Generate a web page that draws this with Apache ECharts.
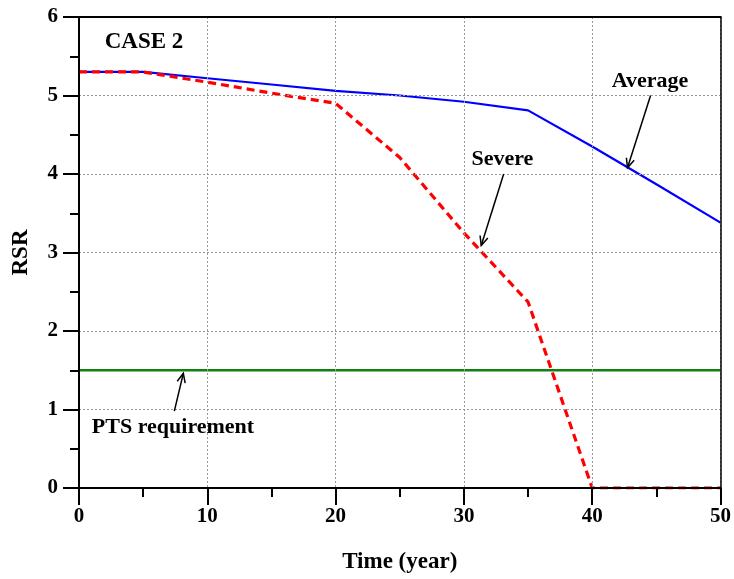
<!DOCTYPE html>
<html><head><meta charset="utf-8">
<script src="https://cdn.jsdelivr.net/npm/echarts@6/dist/echarts.min.js"></script>
<style>html,body{margin:0;padding:0;background:#fff}#c{width:734px;height:579px}</style>
</head><body><div id="c"></div>
<script>
var years = [0, 5, 10, 15, 20, 25, 30, 35, 40, 45, 50];
var average = [5.3, 5.3, 5.22, 5.14, 5.06, 5.0, 4.92, 4.81, 4.35, 3.87, 3.38];
var severe = [5.3, 5.3, 5.17, 5.03, 4.9, 4.21, 3.25, 2.37, 0, 0, 0];
var ptsYears = [0, 50];
var ptsValue = [1.5, 1.5];

// annotations: [text, textX, textY, arrowFromX, arrowFromY, arrowToX, arrowToY]
var annotations = [
  ['Average', 44.5, 5.18, 44.55, 5.0, 42.75, 4.08],
  ['Severe', 33.0, 4.19, 33.1, 4.0, 31.35, 3.09],
  ['PTS requirement', null, null, 7.43, 0.98, 8.13, 1.46]
];
var ptsLabel = ['PTS requirement', 1.0, 0.77];
var caseLabel = ['CASE 2', 2.0, 5.68];

var FONT = '"Liberation Serif", "Times New Roman", serif';
function pairs(xs, ys){ return xs.map(function(x,i){ return [x, ys[i]]; }); }

var chart = echarts.init(document.getElementById('c'), null, {renderer:'canvas'});
var tickStyle = {color: '#000', width: 2};
var option = {
  animation: false,
  backgroundColor: '#fff',
  grid: {left: 79, top: 17, width: 642, height: 474, show: false},
  xAxis: [{
    type: 'value', min: 0, max: 50, interval: 10,
    name: 'Time (year)', nameLocation: 'middle', nameGap: 63,
    nameTextStyle: {fontFamily: FONT, fontWeight: 'bold', fontSize: 23, color: '#000'},
    axisLine: {show: true, onZero: false, lineStyle: {color: '#000', width: 2}},
    axisTick: {show: true, inside: false, length: 17, lineStyle: tickStyle},
    minorTick: {show: true, splitNumber: 2, length: 9, lineStyle: tickStyle},
    axisLabel: {fontFamily: FONT, fontWeight: 'bold', fontSize: 21, color: '#000', margin: 18},
    splitLine: {show: true, lineStyle: {color: '#999', type: [2, 2], width: 1}},
    z: 6
  }, {
    type: 'value', min: 0, max: 50, position: 'top',
    axisLine: {show: true, onZero: false, lineStyle: {color: '#000', width: 2}},
    axisTick: {show: false}, axisLabel: {show: false}, splitLine: {show: false}, z: 6
  }],
  yAxis: [{
    type: 'value', min: 0, max: 6, interval: 1,
    name: 'RSR', nameLocation: 'middle', nameGap: 46,
    nameTextStyle: {fontFamily: FONT, fontWeight: 'bold', fontSize: 23, color: '#000'},
    axisLine: {show: true, onZero: false, lineStyle: {color: '#000', width: 2}},
    axisTick: {show: true, inside: false, length: 16, lineStyle: tickStyle},
    minorTick: {show: true, splitNumber: 2, length: 9, lineStyle: tickStyle},
    axisLabel: {fontFamily: FONT, fontWeight: 'bold', fontSize: 21, color: '#000', margin: 21},
    splitLine: {show: true, lineStyle: {color: '#999', type: [2, 2], width: 1}},
    z: 6
  }, {
    type: 'value', min: 0, max: 6, position: 'right',
    axisLine: {show: true, onZero: false, lineStyle: {color: '#000', width: 1.5}},
    axisTick: {show: false}, axisLabel: {show: false}, splitLine: {show: false}, z: 6
  }],
  series: [
    {type: 'line', data: pairs(ptsYears, ptsValue), symbol: 'none', lineStyle: {color: '#118011', width: 2.5}, z: 3},
    {type: 'line', data: pairs(years, average), symbol: 'none', lineStyle: {color: '#0000ff', width: 2.2}, z: 4},
    {type: 'line', data: pairs(years, severe), symbol: 'none', lineStyle: {color: '#ff0000', width: 3.2, type: [8, 5]}, z: 5}
  ]
};
chart.setOption(option);

function px(x, y){ return chart.convertToPixel({xAxisIndex: 0, yAxisIndex: 0}, [x, y]); }
var graphics = [];
function textEl(str, x, y, align, size){
  var p = px(x, y);
  graphics.push({type: 'text', x: p[0], y: p[1], z: 10,
    style: {text: str, fontFamily: FONT, fontWeight: 'bold', fontSize: size, fill: '#000', align: align, verticalAlign: 'middle'}});
}
function arrowEl(x1, y1, x2, y2){
  var a = px(x1, y1), b = px(x2, y2);
  graphics.push({type: 'line', z: 10, shape: {x1: a[0], y1: a[1], x2: b[0], y2: b[1]}, style: {stroke: '#000', lineWidth: 1.5}});
  var ang = Math.atan2(b[1]-a[1], b[0]-a[0]);
  var L = 10, s = 0.42;
  var p1 = [b[0] - L*Math.cos(ang - s), b[1] - L*Math.sin(ang - s)];
  var p2 = [b[0] - L*Math.cos(ang + s), b[1] - L*Math.sin(ang + s)];
  graphics.push({type: 'polyline', z: 10, shape: {points: [p1, b, p2]}, style: {stroke: '#000', lineWidth: 1.5, fill: null}});
}
annotations.forEach(function(a){
  if (a[1] !== null) textEl(a[0], a[1], a[2], 'center', 22);
  arrowEl(a[3], a[4], a[5], a[6]);
});
textEl(ptsLabel[0], ptsLabel[1], ptsLabel[2], 'left', 22);
textEl(caseLabel[0], caseLabel[1], caseLabel[2], 'left', 23);
chart.setOption({graphic: graphics});
</script></body></html>
